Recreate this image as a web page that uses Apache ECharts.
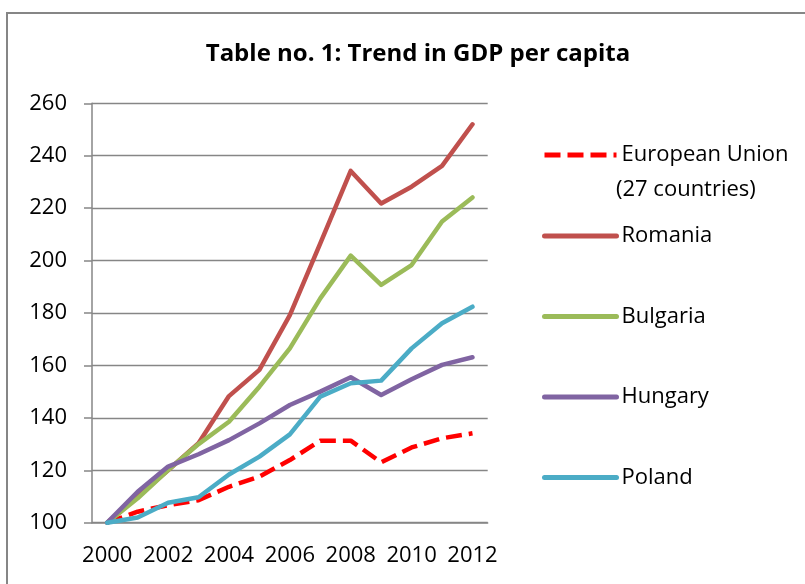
<!DOCTYPE html>
<html>
<head>
<meta charset="utf-8">
<script src="https://cdn.jsdelivr.net/npm/echarts@6/dist/echarts.min.js"></script>
<style>html,body{margin:0;padding:0;background:#fff;}#c{width:805px;height:584px;}</style>
</head>
<body>
<div id="c"></div>
<script>
const years = ['2000','2001','2002','2003','2004','2005','2006','2007','2008','2009','2010','2011','2012'];
const euValues = [100,104.2,106.7,108.6,113.7,117.6,123.9,131.3,131.3,123,128.7,132.2,134.1];
const romaniaValues = [100,110,120,130.3,148.3,158.3,179.2,206.6,234.2,221.8,228.2,236.1,252];
const bulgariaValues = [100,109.3,120.1,130,138.5,151.9,166.5,185.6,201.9,190.7,198.3,214.9,224.1];
const hungaryValues = [100,111.8,121.4,126.1,131.5,137.9,144.9,150,155.5,148.7,154.7,160.2,163.1];
const polandValues = [100,102,107.6,109.7,118.4,125.2,133.7,148.1,153.2,154.2,166.5,176.1,182.4];
const yTicks = {min:100, max:260, interval:20};

const FONT = 'Open Sans';
const gridColor = '#868686';
const chart = echarts.init(document.getElementById('c'), null, {renderer:'canvas'});
function line(name, data, color, dashed){
  return {
    name, type:'line', data, symbol:'none', showSymbol:false, smooth:false,
    lineStyle:{color, width:4.5, type: dashed ? [16,7] : 'solid', cap: dashed ? 'butt':'round', join:'round'},
    itemStyle:{color}, emphasis:{disabled:true}
  };
}
chart.setOption({
  animation:false,
  backgroundColor:'#fff',
  title:{text:'Table no. 1: Trend in GDP per capita', left:413, top:37, textAlign:'center',
    textStyle:{fontFamily:FONT, fontWeight:'bold', fontSize:24, color:'#000'}},
  grid:{left:92, right:317.3, top:103.3, bottom:61.3},
  xAxis:{type:'category', data:years, boundaryGap:true,
    axisLine:{lineStyle:{color:gridColor, width:1.5}},
    axisTick:{interval:0, length:9, lineStyle:{color:gridColor, width:1.5}},
    axisLabel:{interval:1, margin:22, fontFamily:FONT, fontSize:22, color:'#000'},
    splitLine:{show:false}},
  yAxis:{type:'value', min:yTicks.min, max:yTicks.max, interval:yTicks.interval,
    axisLine:{show:true, lineStyle:{color:gridColor, width:1.5}},
    axisTick:{show:true, length:8, lineStyle:{color:gridColor, width:1.5}},
    axisLabel:{margin:25, fontFamily:FONT, fontSize:22, color:'#000'},
    splitLine:{lineStyle:{color:gridColor, width:1.3}}},
  legend:[
    {data:['European Union (27 countries)'], orient:'vertical', left:537, top:135,
     itemWidth:72, itemHeight:10, itemGap:7,
     formatter:()=>'European Union',
     itemStyle:{opacity:0},
     lineStyle:{width:5},
     textStyle:{fontFamily:FONT, fontSize:22, color:'#000', lineHeight:30}},
    {data:['Romania','Bulgaria','Hungary','Poland'], orient:'vertical', left:537, top:216,
     itemWidth:72, itemHeight:10, itemGap:50.5,
     itemStyle:{opacity:0},
     lineStyle:{width:5},
     textStyle:{fontFamily:FONT, fontSize:22, color:'#000', lineHeight:30}}
  ],
  graphic:[
    {type:'rect', shape:{x:7, y:13, width:820, height:600}, style:{fill:'none', stroke:gridColor, lineWidth:2}, silent:true, z:-1},
    {type:'text', left:616, top:179, style:{text:'(27 countries)', font:'22px "Open Sans"', fill:'#000'}}
  ],
  series:[
    line('European Union (27 countries)', euValues, '#FF0000', true),
    line('Romania', romaniaValues, '#C0504D'),
    line('Bulgaria', bulgariaValues, '#9BBB59'),
    line('Hungary', hungaryValues, '#8064A2'),
    line('Poland', polandValues, '#4BACC6')
  ]
});
</script>
</body>
</html>
